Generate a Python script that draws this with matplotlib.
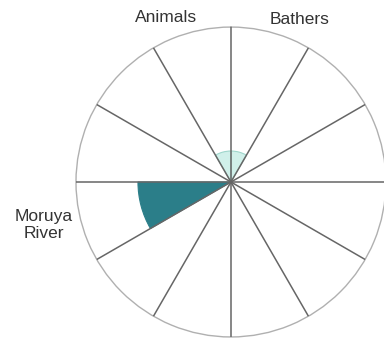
import numpy as np
import matplotlib.pyplot as plt

plt.rcParams['font.family'] = ['Liberation Sans', 'DejaVu Sans']

categories = ['Bathers', '', '', '', '', '', '', '', 'Moruya\nRiver', '', '', 'Animals']
values = [0.2, 0, 0, 0, 0, 0, 0, 0, 0.6, 0, 0, 0.2]
colors = ['#d0f0ea', '#ffffff', '#ffffff', '#ffffff', '#ffffff', '#ffffff',
          '#ffffff', '#ffffff', '#2b7e89', '#ffffff', '#ffffff', '#d0f0ea']
edges = ['#9fd6cc', 'none', 'none', 'none', 'none', 'none',
         'none', 'none', '#2b7e89', 'none', 'none', '#9fd6cc']
r_max = 1.0

# label nudges in points (style only)
label_offsets = {'Bathers': (-3, 0.5), 'Animals': (7, 2), 'Moruya\nRiver': (2.5, 0)}

n = len(categories)
width = 2 * np.pi / n
centers = np.arange(n) * width + width / 2

fig = plt.figure(figsize=(3.84, 3.38), dpi=100)
ax = fig.add_axes([0.1979, 0.003, 0.807, 0.917], projection='polar')
ax.set_theta_zero_location('N')
ax.set_theta_direction(-1)
ax.set_ylim(0, r_max)

ax.bar(centers, values, width=width, color=colors, edgecolor=edges,
       linewidth=0.8, zorder=2)

ax.set_xticks(np.arange(n) * width)
ax.set_xticklabels([])
ax.set_yticks([])
ax.xaxis.grid(True, color='#666666', linewidth=1.1)
ax.yaxis.grid(False)
ax.set_axisbelow(False)
ax.tick_params(axis='x', length=0)
ax.spines['polar'].set_color('#b0b0b0')
ax.spines['polar'].set_linewidth(1.0)

for th, lab in zip(centers, categories):
    if not lab:
        continue
    s = np.sin(th)
    ha = 'left' if s > 0.05 else ('right' if s < -0.05 else 'center')
    ax.annotate(lab, xy=(th, 1.08 * r_max), xytext=label_offsets.get(lab, (0, 0)),
                textcoords='offset points', ha=ha, va='center',
                multialignment='center', fontsize=12.5, color='#333333',
                annotation_clip=False, linespacing=1.15)

fig.savefig('out.png', dpi=100)
